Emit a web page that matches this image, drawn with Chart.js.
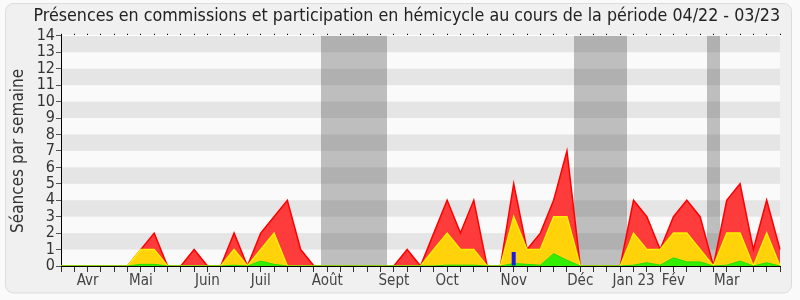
<!DOCTYPE html>
<html lang="fr">
<head>
<meta charset="UTF-8">
<title>Présences</title>
<script src="https://cdn.jsdelivr.net/npm/chart.js"></script>
<style>
  body { margin: 0; background: #ffffff; }
</style>
</head>
<body>
<canvas id="chart" width="800" height="300"></canvas>
<script>
// une valeur par semaine, 04/22 - 03/23
const weeks = ['', '', 'Avr', '', '', '', 'Mai', '', '', '', '', 'Juin', '', '', '', 'Juil', '', '', '', '',
  'Août', '', '', '', '', 'Sept', '', '', '', 'Oct', '', '', '', '', 'Nov', '', '', '', '', 'Déc',
  '', '', '', 'Jan 23', '', '', 'Fév', '', '', '', 'Mar', '', '', '', ''];

const presences = [0, 0, 0, 0, 0, 0, 1, 2, 0, 0, 1, 0, 0, 2, 0, 2, 3, 4, 1, 0,
  0, 0, 0, 0, 0, 0, 1, 0, 2, 4, 2, 4, 0, 0, 5, 1, 2, 4, 7, 0,
  0, 0, 0, 4, 3, 1, 3, 4, 3, 0, 4, 5, 1, 4, 1];

const commissions = [0, 0, 0, 0, 0, 0, 1, 1, 0, 0, 0, 0, 0, 1, 0, 1, 2, 0, 0, 0,
  0, 0, 0, 0, 0, 0, 0, 0, 1, 2, 1, 1, 0, 0, 3, 1, 1, 3, 3, 0,
  0, 0, 0, 2, 1, 1, 2, 2, 1, 0, 2, 2, 0, 2, 0];

const interventions = [0, 0, 0, 0, 0, 0, 0.1, 0.1, 0, 0, 0, 0, 0, 0.05, 0, 0.3, 0.1, 0, 0, 0,
  0, 0, 0, 0, 0, 0, 0, 0, 0, 0.05, 0.05, 0.05, 0, 0, 0.15, 0.1, 0.05, 0.75, 0.35, 0,
  0, 0, 0, 0.05, 0.2, 0.05, 0.5, 0.25, 0.25, 0, 0.05, 0.3, 0, 0.2, 0];

const questions = [null, null, null, null, null, null, null, null, null, null, null, null, null, null, null, null, null, null, null, null,
  null, null, null, null, null, null, null, null, null, null, null, null, null, null, 0.85, null, null, null, null, null,
  null, null, null, null, null, null, null, null, null, null, null, null, null, null, null];

// vacances parlementaires : première et dernière semaine
const vacances = [[20, 24], [39, 42], [49, 49]];

const font = "'DejaVu Sans Condensed', 'DejaVu Sans'";

// fond gris + bandes horizontales + vacances
const fond = {
  id: 'fond',
  beforeDraw(chart) {
    const { ctx, width, height } = chart;
    const { left, right, top, bottom } = chart.chartArea;
    const y = chart.scales.y;
    ctx.save();
    ctx.fillStyle = '#fafafa';
    ctx.fillRect(0, 0, width, height);
    ctx.beginPath();
    ctx.roundRect(5.5, 3.5, 786, 289.5, 8);
    ctx.fillStyle = '#f0f0f0';
    ctx.fill();
    ctx.strokeStyle = '#dcdcdc';
    ctx.stroke();
    ctx.fillStyle = '#fafafa';
    ctx.fillRect(left, top, right - left, bottom - top);
    ctx.fillStyle = '#e5e5e5';
    for (let v = 1; v < 14; v += 2) {
      const y1 = y.getPixelForValue(v + 1);
      const y0 = y.getPixelForValue(v);
      ctx.fillRect(left, y1, right - left, y0 - y1);
    }
    ctx.restore();
  },
  beforeDatasetsDraw(chart) {
    const { ctx } = chart;
    const { top, bottom } = chart.chartArea;
    const x = chart.scales.x;
    ctx.save();
    ctx.fillStyle = 'rgba(70, 70, 70, 0.33)';
    vacances.forEach(([a, b]) => {
      const x0 = Math.round(x.getPixelForValue(a - 0.5));
      const x1 = Math.round(x.getPixelForValue(b + 0.5));
      ctx.fillRect(x0, top, x1 - x0, bottom - top);
    });
    ctx.restore();
  }
};

new Chart(document.getElementById('chart'), {
  type: 'line',
  data: {
    labels: weeks,
    datasets: [
      {
        data: presences,
        borderColor: '#ff0000',
        backgroundColor: 'rgba(255, 50, 50, 0.95)',
        borderWidth: 1.5,
        fill: 'origin',
        pointRadius: 0,
        tension: 0,
        order: 3,
      },
      {
        data: commissions,
        borderColor: '#ffee00',
        backgroundColor: '#ffd20a',
        borderWidth: 1.5,
        fill: 'origin',
        pointRadius: 0,
        tension: 0,
        order: 2,
      },
      {
        data: interventions,
        borderColor: '#22dd00',
        backgroundColor: '#33ee00',
        borderWidth: 1,
        fill: 'origin',
        pointRadius: 0,
        tension: 0,
        order: 1,
      },
      {
        type: 'bar',
        data: questions,
        backgroundColor: '#1a1ae0',
        barPercentage: 0.3,
        categoryPercentage: 1,
        grouped: false,
        order: 0,
      },
    ],
  },
  options: {
    responsive: false,
    animation: false,
    devicePixelRatio: 1,
    layout: { padding: { left: 0, right: 20, top: 0, bottom: 0 } },
    plugins: {
      legend: { display: false },
      tooltip: { enabled: false },
      title: {
        display: true,
        align: 'end',
        text: 'Présences en commissions et participation en hémicycle au cours de la période 04/22 - 03/23',
        color: '#222',
        font: { family: font, size: 17.7, weight: 'normal' },
        padding: { top: 6, bottom: 6.6 },
      },
    },
    scales: {
      x: {
        offset: false,
        grid: { offset: false, drawOnChartArea: false, tickLength: 6, color: '#333' },
        border: { color: '#000' },
        ticks: { autoSkip: false, maxRotation: 0, padding: 0, color: '#444', font: { family: font, size: 15 } },
        afterFit(s) { s.height = 34; },
      },
      xTop: {
        type: 'category',
        position: 'top',
        offset: false,
        grid: { offset: false, drawOnChartArea: false, tickLength: 2, color: '#000' },
        border: { color: '#ffffff' },
        ticks: { display: false },
        afterFit(s) { s.height = 2; },
      },
      y: {
        min: 0,
        max: 14,
        grid: { drawOnChartArea: false, tickLength: 5, color: '#555' },
        border: { color: '#000' },
        ticks: { stepSize: 1, autoSkip: false, padding: 1, color: '#333', font: { family: font, size: 16 } },
        title: {
          display: true,
          text: 'Séances par semaine',
          color: '#333',
          font: { family: font, size: 17 },
          padding: { top: 8, bottom: 0 },
        },
        afterFit(s) { s.width = 61; },
      },
    },
  },
  plugins: [fond],
});
</script>
</body>
</html>
